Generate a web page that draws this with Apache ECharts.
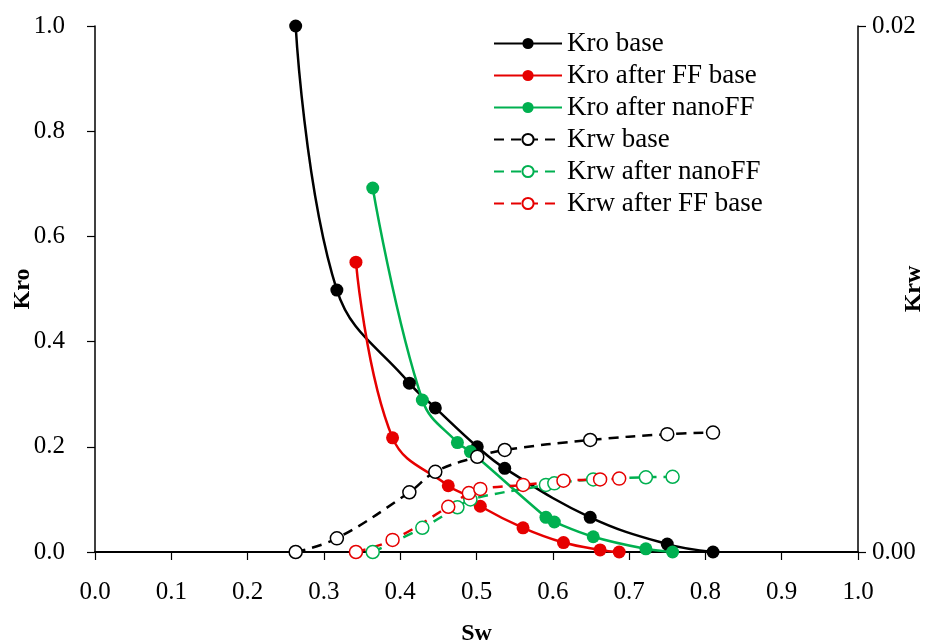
<!DOCTYPE html>
<html>
<head>
<meta charset="utf-8">
<script src="https://cdn.jsdelivr.net/npm/echarts@6/dist/echarts.min.js"></script>
<style>
html, body { margin: 0; padding: 0; background: #fff; }
#chart { width: 934px; height: 643px; }
</style>
</head>
<body>
<div id="chart"></div>
<script>
// Kro base
var sw_base = [0.263, 0.317, 0.412, 0.446, 0.501, 0.537, 0.649, 0.750, 0.810];
var kro_base = [1.0, 0.498, 0.321, 0.274, 0.200, 0.159, 0.066, 0.015, 0.0];
var krw_base = [0.0, 0.00052, 0.00227, 0.00305, 0.00362, 0.00388, 0.00426, 0.00448, 0.00454];
// Kro / Krw after FF base
var sw_ff = [0.342, 0.390, 0.463, 0.490, 0.505, 0.561, 0.614, 0.662, 0.687];
var kro_ff = [0.551, 0.217, 0.126, 0.105, 0.087, 0.046, 0.018, 0.004, 0.0];
var krw_ff = [0.0, 0.00046, 0.00172, 0.00224, 0.0024, 0.00255, 0.00271, 0.00276, 0.00279];
// Kro / Krw after nanoFF
var sw_nano = [0.364, 0.429, 0.475, 0.492, 0.591, 0.602, 0.653, 0.722, 0.757];
var kro_nano = [0.692, 0.289, 0.208, 0.191, 0.066, 0.057, 0.029, 0.006, 0.0];
var krw_nano = [0.0, 0.00092, 0.0017, 0.0020, 0.00255, 0.00261, 0.00276, 0.00284, 0.00286];

var BLACK = '#000000', RED = '#e60000', GREEN = '#00b050';
var FONT = '"Liberation Serif", "DejaVu Serif", serif';

function pairs(xs, ys) {
    var out = [];
    for (var i = 0; i < xs.length; i++) out.push([xs[i], ys[i]]);
    return out;
}

function kroSeries(name, color, xs, ys) {
    return {
        name: name, type: 'line', yAxisIndex: 0,
        data: pairs(xs, ys),
        smooth: 0.4,
        symbol: 'circle', symbolSize: 13,
        lineStyle: {color: color, width: 2.5},
        itemStyle: {color: color}
    };
}

function krwSeries(name, color, xs, ys) {
    return {
        name: name, type: 'line', yAxisIndex: 1,
        data: pairs(xs, ys),
        smooth: 0.4,
        symbol: 'circle', symbolSize: 13,
        lineStyle: {color: color, width: 2.5, type: [10, 7]},
        itemStyle: {color: '#fff', borderColor: color, borderWidth: 1.5}
    };
}

var chart = echarts.init(document.getElementById('chart'), null, {renderer: 'canvas'});
var option = {
    animation: false,
    backgroundColor: '#fff',
    textStyle: {fontFamily: FONT, color: '#000'},
    grid: {left: 95, right: 76, top: 26, bottom: 91, containLabel: false, outerBoundsMode: 'none'},
    legend: {
        orient: 'vertical',
        left: 488, top: 25,
        itemWidth: 68, itemHeight: 14,
        itemGap: 5,
        textStyle: {fontFamily: FONT, fontSize: 27, lineHeight: 26, color: '#000'},
        data: ['Kro base', 'Kro after FF base', 'Kro after nanoFF', 'Krw base', 'Krw after nanoFF', 'Krw after FF base']
    },
    xAxis: {
        type: 'value', min: 0, max: 1, interval: 0.1,
        name: 'Sw', nameLocation: 'middle', nameGap: 70, nameMoveOverlap: false,
        nameTextStyle: {fontFamily: FONT, fontSize: 24, fontWeight: 'bold', color: '#000'},
        axisLine: {show: true, onZero: false, lineStyle: {color: '#000', width: 2}},
        axisTick: {show: true, inside: false, length: 8, lineStyle: {color: '#000', width: 1.2}},
        axisLabel: {fontFamily: FONT, fontSize: 25, color: '#000', margin: 28,
            formatter: function (v) { return v.toFixed(1); }},
        splitLine: {show: false}
    },
    yAxis: [{
        type: 'value', min: 0, max: 1, interval: 0.2, position: 'left',
        name: 'Kro', nameLocation: 'middle', nameGap: 60, nameRotate: 90, nameMoveOverlap: false,
        nameTextStyle: {fontFamily: FONT, fontSize: 24, fontWeight: 'bold', color: '#000'},
        axisLine: {show: true, onZero: false, lineStyle: {color: '#000', width: 1.5}},
        axisTick: {show: true, inside: false, length: 8, lineStyle: {color: '#000', width: 1.2}},
        axisLabel: {fontFamily: FONT, fontSize: 25, color: '#000', margin: 30,
            formatter: function (v) { return v.toFixed(1); }},
        splitLine: {show: false}
    }, {
        type: 'value', min: 0, max: 0.02, interval: 0.02, position: 'right',
        name: 'Krw', nameLocation: 'middle', nameGap: 44, nameRotate: 90, nameMoveOverlap: false,
        nameTextStyle: {fontFamily: FONT, fontSize: 24, fontWeight: 'bold', color: '#000'},
        axisLine: {show: true, onZero: false, lineStyle: {color: '#000', width: 1.5}},
        axisTick: {show: true, inside: false, length: 8, lineStyle: {color: '#000', width: 1.2}},
        axisLabel: {fontFamily: FONT, fontSize: 25, color: '#000', margin: 14,
            formatter: function (v) { return v.toFixed(2); }},
        splitLine: {show: false}
    }],
    series: [
        kroSeries('Kro base', BLACK, sw_base, kro_base),
        kroSeries('Kro after FF base', RED, sw_ff, kro_ff),
        kroSeries('Kro after nanoFF', GREEN, sw_nano, kro_nano),
        krwSeries('Krw base', BLACK, sw_base, krw_base),
        krwSeries('Krw after nanoFF', GREEN, sw_nano, krw_nano),
        krwSeries('Krw after FF base', RED, sw_ff, krw_ff)
    ]
};
chart.setOption(option);
</script>
</body>
</html>
